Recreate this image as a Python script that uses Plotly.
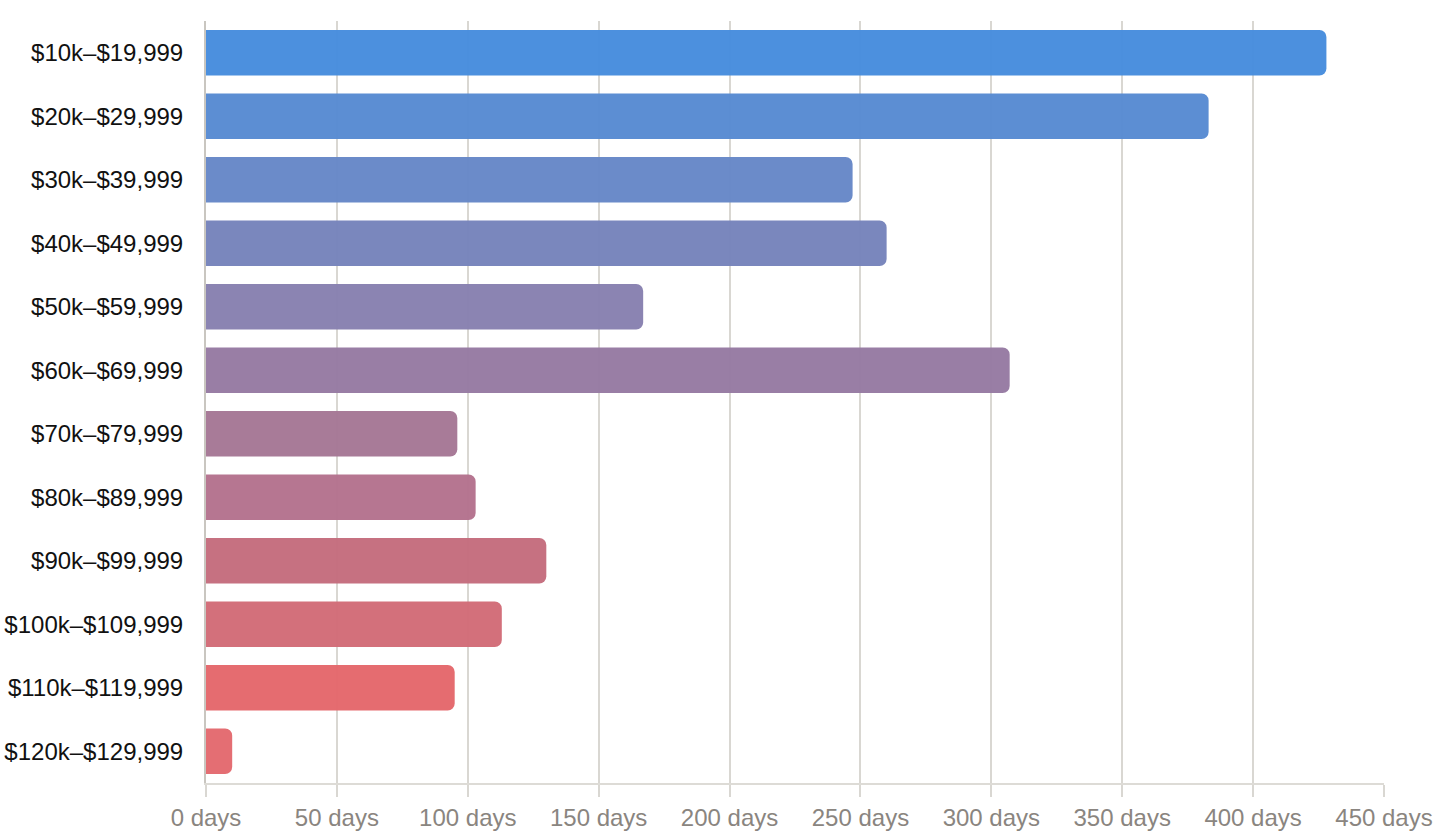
import plotly.graph_objects as go

categories = ["$10k–$19,999", "$20k–$29,999", "$30k–$39,999", "$40k–$49,999",
              "$50k–$59,999", "$60k–$69,999", "$70k–$79,999", "$80k–$89,999",
              "$90k–$99,999", "$100k–$109,999", "$110k–$119,999", "$120k–$129,999"]
days = [428, 383, 247, 260, 167, 307, 96, 103, 130, 113, 95, 10]
colors = ["#468cdd", "#578ad2", "#6687c7", "#7683bb", "#8780b0", "#967aa2",
          "#a57795", "#b4728d", "#c46c7d", "#d26b77", "#e4676b", "#e3696e"]
tick_vals = [0, 50, 100, 150, 200, 250, 300, 350, 400, 450]
tick_text = [f"{v} days" for v in tick_vals]

fig = go.Figure(go.Bar(
    x=days, y=categories, orientation="h",
    marker=dict(color=colors, opacity=0.97, line=dict(width=0)),
))
fig.update_layout(
    width=1440, height=840,
    margin=dict(l=206, r=56, t=21, b=57),
    plot_bgcolor="white", paper_bgcolor="white",
    bargap=0.28, barcornerradius=7,
    font=dict(family="Liberation Sans, Arial, sans-serif", size=24),
    showlegend=False,
)
fig.update_xaxes(
    range=[0, 450], tickvals=tick_vals, ticktext=tick_text, automargin=False,
    showgrid=True, gridcolor="#d9d7d2", gridwidth=1.5,
    zeroline=False, showline=True, linecolor="#dddbd6", linewidth=1.5,
    ticks="outside", ticklen=12, tickcolor="#d9d7d2", tickwidth=1.5,
    tickfont=dict(color="#8a8580", size=24),
)
fig.update_yaxes(
    categoryorder="array", categoryarray=categories, autorange="reversed",
    automargin=False,
    showgrid=False, zeroline=False, showline=True, linecolor="#c9c6c0", linewidth=2,
    ticks="outside", ticklen=16, tickcolor="rgba(0,0,0,0)",
    tickfont=dict(color="#111111", size=24),
)
fig.write_html("out.html")
